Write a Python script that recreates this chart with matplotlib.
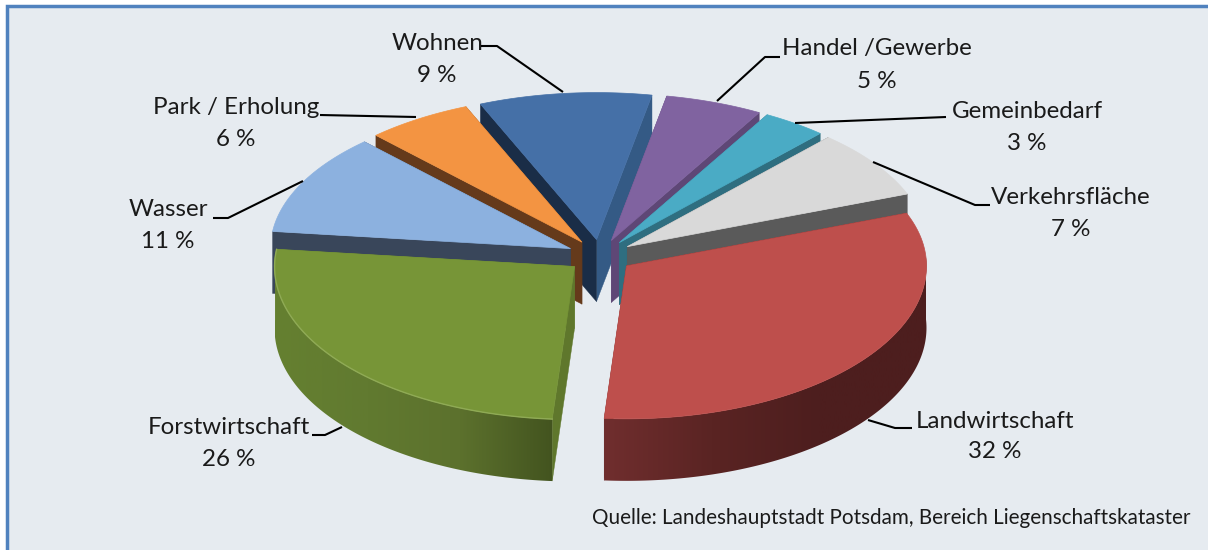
import numpy as np
import matplotlib
matplotlib.use("Agg")
import matplotlib.pyplot as plt
from matplotlib.patches import Rectangle, Polygon
from matplotlib.colors import LinearSegmentedColormap

# reihenfolge im uhrzeigersinn, start bei landwirtschaft
names = ["Landwirtschaft", "Forstwirtschaft", "Wasser", "Park / Erholung",
         "Wohnen", "Handel /Gewerbe", "Gemeinbedarf", "Verkehrsfläche"]
values = [32, 26, 11, 6, 9, 5, 3, 7]

top_colors = ["#BE4F4C", "#779537", "#8CB1DF", "#F39442",
              "#4570A7", "#8063A0", "#4AABC5", "#D9D9D9"]
left_walls = ["#5A2221", "#5F772C", "#39465A", "#653A1B",
              "#1A2D47", "#5E4776", "#2F6E80", "#5A5A5A"]
right_walls = ["#5A2221", "#66852F", "#39465A", "#653A1B",
               "#345A85", "#5E4776", "#2F6E80", "#5A5A5A"]
# aussenwand: farbverlauf von links nach rechts
arc_colors = {0: ["#702E2E", "#5A2423", "#4D1E1E", "#4D1E1E"],
              1: ["#658030", "#617A30", "#5C712D", "#43541F"]}

# perspektive: kleine korrektur der segmentwinkel (grad)
sweep_fix = [-1.1, -2.1, -0.1, -1.2, 0.7, 0.7, 1.6, 1.5]
draw_order = [4, 3, 5, 6, 2, 7, 1, 0]

label_pos = [(995, 421, 452), (229, 428, 460), (168, 210, 242), (236, 108, 140),
             (437, 43, 75), (877, 49, 81), (1027, 111, 143), (1071, 197, 229)]
leaders = [([912, 895, 868], [428, 428, 420]),
           ([312, 325, 342], [435, 435, 427]),
           ([213, 228, 303], [218, 218, 181]),
           ([320, 416], [115, 117]),
           ([481, 497, 563], [46, 46, 92]),
           ([780, 765, 717], [57, 57, 101]),
           ([946, 795], [117, 123]),
           ([990, 975, 873], [205, 205, 162])]

cx, cy = 600, 256
rx, ry = 300, 153
ry_back = 147   # hinten wirkt die ellipse etwas flacher
depth = 62
explode = 33
start_angle = 21

plt.rcParams["font.family"] = ["Lato", "DejaVu Sans"]

fig = plt.figure(figsize=(12.08, 5.5), dpi=100, facecolor="white")
ax = fig.add_axes([0, 0, 1, 1])
ax.set_xlim(0, 1208)
ax.set_ylim(550, 0)
ax.axis("off")

ax.add_patch(Rectangle((6.5, 5.5), 1300, 600, facecolor="#E6EBF0",
                       edgecolor="#5082BE", linewidth=2.5))

sweeps = [v / sum(values) * 360 + f for v, f in zip(values, sweep_fix)]
ends = start_angle - np.cumsum(sweeps)
starts = ends + np.array(sweeps)

z = 2
for i in draw_order:
    a0, a1 = starts[i], ends[i]
    mid = np.radians((a0 + a1) / 2)
    ax0 = cx + explode * np.cos(mid)
    ay0 = cy - explode * 0.5 * np.sin(mid)

    t = np.radians(np.linspace(a0, a1, 300))
    xs = ax0 + rx * np.cos(t)
    ys = ay0 - np.where(np.sin(t) > 0, ry_back, ry) * np.sin(t)

    # radiale waende
    ax.fill([ax0, xs[-1], xs[-1], ax0], [ay0, ys[-1], ys[-1] + depth, ay0 + depth],
            color=right_walls[i], lw=0.3, zorder=z)
    ax.fill([ax0, xs[0], xs[0], ax0], [ay0, ys[0], ys[0] + depth, ay0 + depth],
            color=left_walls[i], lw=0.3, zorder=z)

    # aussenwand, nur der sichtbare teil vorne
    if i in arc_colors:
        vis = np.sin(t) <= 0.06
        xv, yv = xs[vis], ys[vis]
        cmap = LinearSegmentedColormap.from_list("w", arc_colors[i])
        grad = np.linspace(0, 1, 256).reshape(1, -1)
        im = ax.imshow(grad, cmap=cmap, aspect="auto", zorder=z,
                       extent=(xv.min(), xv.max(), 550, 0))
        wall = Polygon(np.c_[np.r_[xv, xv[::-1]], np.r_[yv, yv[::-1] + depth]],
                       closed=True, transform=ax.transData)
        im.set_clip_path(wall)
        ax.set_xlim(0, 1208)
        ax.set_ylim(550, 0)

    # deckflaeche
    ax.fill(np.r_[ax0, xs], np.r_[ay0, ys], color=top_colors[i], lw=0.5, zorder=z)
    if i == 1:
        ax.plot(xs, ys, color="#8FAA55", lw=1, zorder=z)
    z += 1

for i in range(len(names)):
    x, y1, y2 = label_pos[i]
    ax.text(x, y1, names[i], ha="center", va="center", fontsize=17.4, color="#1a1a1a", zorder=20)
    ax.text(x, y2, f"{values[i]} %", ha="center", va="center", fontsize=17.4, color="#1a1a1a", zorder=20)
    ax.plot(leaders[i][0], leaders[i][1], color="black", lw=1.5, solid_capstyle="butt", zorder=20)

ax.text(592, 518, "Quelle: Landeshauptstadt Potsdam, Bereich Liegenschaftskataster",
        ha="left", va="center", fontsize=14.9, color="#1a1a1a", zorder=20)

fig.savefig("out.png", dpi=100)
